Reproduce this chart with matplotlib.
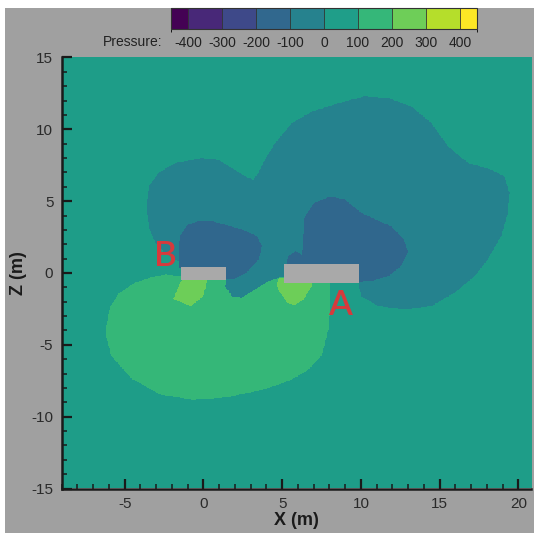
import numpy as np
import matplotlib
matplotlib.use("Agg")
import matplotlib.pyplot as plt
from matplotlib.path import Path
from matplotlib.colors import BoundaryNorm
from matplotlib.patches import Rectangle
from matplotlib.ticker import MultipleLocator
import matplotlib.cm as cm

plt.rcParams["font.family"] = ["Liberation Sans", "DejaVu Sans"]
plt.rcParams["axes.unicode_minus"] = False

# ---------------- data ----------------
levels = [-450, -400, -300, -200, -100, 0, 100, 200, 300, 400, 450]
cbar_ticks = [-400, -300, -200, -100, 0, 100, 200, 300, 400]
x_range = [-9.0, 20.8]
z_range = [-15.0, 15.0]
background_pressure = 50

# -100..0 region (large cloud)
big_x = [-3.63, -3.52, -2.89, -1.84, -0.15, 0.91, 1.76, 2.6, 3.13, 3.45, 3.87, 4.5, 5.56,
         6.83, 8.52, 10.2, 11.69, 13.16, 14.43, 15.49, 16.76, 18.23, 19.08, 19.4, 19.3,
         18.87, 18.0, 17.17, 15.9, 14.43, 12.74, 11.05, 10.0, 9.78, 5.13, 4.71, 4.08,
         3.23, 2.39, 1.76, 1.35, 1.44, -1.3, -1.62, -2.47, -3.1, -3.52]
big_z = [4.61, 6.0, 6.94, 7.63, 7.98, 7.86, 7.28, 6.7, 6.47, 6.94, 7.86, 9.0, 10.4,
         11.2, 11.8, 12.27, 12.16, 11.57, 10.4, 8.79, 7.63, 7.17, 6.7, 5.55, 4.15,
         2.53, 0.9, -0.26, -1.41, -2.34, -2.57, -2.34, -1.65, -0.6, -0.26, -0.37, -0.6,
         -1.18, -1.76, -1.65, -0.95, -0.3, 0.0, 0.79, 1.37, 2.07, 3.22]
big_p = -50

# -200..-100 region behind B
left_core_x = [-1.55, -1.6, -1.5, -1.1, -0.3, 0.6, 1.6, 2.5, 3.35, 3.68, 3.5, 2.7, 1.9, 1.3]
left_core_z = [0.3, 1.6, 2.6, 3.3, 3.6, 3.55, 3.25, 2.95, 2.55, 1.85, 0.95, 0.0, -0.45, -0.4]
left_core_p = -150

# -200..-100 region behind A
right_core_x = [5.2, 5.3, 5.8, 6.25, 6.3, 6.4, 7.0, 8.0, 8.9, 10.0, 10.85, 11.9, 12.7,
                12.95, 12.5, 11.7, 10.6, 9.5, 6.0]
right_core_z = [0.3, 1.1, 1.5, 1.2, 2.6, 3.9, 4.85, 5.3, 5.1, 4.15, 3.7, 3.2, 2.3,
                1.4, 0.45, -0.25, -0.6, -0.65, 0.3]
right_core_p = -150

# 100..200 region (lower lobe)
green_x = [-3.32, -2.47, -1.41, 1.44, 1.35, 1.76, 2.39, 3.23, 4.08, 4.71, 5.13, 8.0, 8.0,
           7.95, 7.46, 6.6, 5.5, 3.87, 1.35, -0.75, -2.8, -4.6, -5.9, -6.27, -6.0, -5.45, -4.4]
green_z = [-0.32, -0.14, -0.26, -0.35, -0.95, -1.65, -1.76, -1.18, -0.6, -0.37, -0.3, -0.6,
           -1.9, -3.7, -5.8, -6.8, -7.5, -8.14, -8.72, -8.88, -8.5, -7.4, -5.8, -4.2, -2.5,
           -1.5, -0.7]
green_p = 150

# 200..300 patches under the two bodies
patch_b_x = [-1.35, 0.2, 0.15, -0.1, -0.85, -1.95, -1.7]
patch_b_z = [-0.35, -0.35, -0.9, -1.7, -2.35, -1.85, -1.2]
patch_a_x = [4.75, 6.9, 6.85, 6.3, 5.8, 5.3, 4.7, 4.6]
patch_a_z = [-0.4, -0.4, -0.95, -1.9, -2.25, -2.15, -1.2, -0.8]
patch_p = 250

# bodies (gray rectangles) and their labels
body_x0 = [-1.4, 5.1]
body_z0 = [-0.5, -0.7]
body_w = [2.85, 4.8]
body_h = [0.92, 1.35]
body_label = ["B", "A"]
label_x = [-2.4, 8.68]
label_z = [1.15, -2.26]

# ---------------- build the field ----------------
nx, nz = 700, 700
xs = np.linspace(x_range[0], x_range[1], nx)
zs = np.linspace(z_range[0], z_range[1], nz)
XX, ZZ = np.meshgrid(xs, zs)
pts = np.column_stack([XX.ravel(), ZZ.ravel()])
P = np.full(XX.shape, float(background_pressure))
regions = [
    (big_x, big_z, big_p),
    (left_core_x, left_core_z, left_core_p),
    (right_core_x, right_core_z, right_core_p),
    (green_x, green_z, green_p),
    (patch_b_x, patch_b_z, patch_p),
    (patch_a_x, patch_a_z, patch_p),
]
for rx, rz, rp in regions:
    inside = Path(np.column_stack([rx, rz])).contains_points(pts).reshape(XX.shape)
    P[inside] = rp

cmap = plt.get_cmap("viridis", 10)
norm = BoundaryNorm(levels, cmap.N)

# ---------------- figure ----------------
W, H = 534, 533
fig = plt.figure(figsize=(W / 100, H / 100), dpi=100, facecolor="white")
fig.patches.append(Rectangle((5 / W, 0), 1, 1 - 8 / H, transform=fig.transFigure,
                             facecolor="#a0a0a0", edgecolor="none", zorder=-10))

ax = fig.add_axes([61.7 / W, 1 - 488.5 / H, (531 - 61.7) / W, (488.5 - 57.5) / H])
ax.imshow(P, extent=[x_range[0], x_range[1], z_range[0], z_range[1]], origin="lower",
          cmap=cmap, norm=norm, aspect="auto", interpolation="nearest")

for x0, z0, w, h in zip(body_x0, body_z0, body_w, body_h):
    ax.add_patch(Rectangle((x0, z0), w, h, facecolor="#a9a9a9", edgecolor="none", zorder=3))
for t, lx, lz in zip(body_label, label_x, label_z):
    ax.text(lx, lz, t, color="#d63a3c", fontsize=25, family=["Lato", "DejaVu Sans"],
            fontweight="semibold", ha="center", va="center", zorder=4)

ax.set_xlim(x_range)
ax.set_ylim(z_range)
ax.xaxis.set_major_locator(MultipleLocator(5))
ax.xaxis.set_minor_locator(MultipleLocator(1))
ax.yaxis.set_major_locator(MultipleLocator(5))
ax.yaxis.set_minor_locator(MultipleLocator(1))
ax.tick_params(which="both", direction="in", top=False, right=False,
               color="#1a1a1a", labelcolor="#2a2a2a", labelsize=11, pad=6)
ax.tick_params(which="major", length=7, width=1.6)
ax.tick_params(which="minor", length=3.5, width=1.1)
for s in ["top", "right"]:
    ax.spines[s].set_visible(False)
for s in ["left", "bottom"]:
    ax.spines[s].set_linewidth(1.8)
    ax.spines[s].set_color("#1a1a1a")

ax.set_xlabel("X (m)", fontsize=13, fontweight="bold", color="#1a1a1a", labelpad=1)
ax.set_ylabel("Z (m)", fontsize=13, fontweight="bold", color="#1a1a1a", labelpad=3)

# colorbar
cax = fig.add_axes([171 / W, 1 - 29.3 / H, (477 - 171) / W, 21 / H])
sm = cm.ScalarMappable(norm=norm, cmap=cmap)
cb = fig.colorbar(sm, cax=cax, orientation="horizontal", boundaries=levels,
                  ticks=cbar_ticks, spacing="proportional", drawedges=True)
cb.outline.set_edgecolor("#333333")
cb.outline.set_linewidth(0.8)
cb.dividers.set_color("#333333")
cb.dividers.set_linewidth(0.6)
cax.tick_params(length=0, labelsize=10, pad=4.5, labelcolor="#222222")
fig.text(162 / W, 1 - 42 / H, "Pressure:", ha="right", va="center",
         fontsize=10, color="#222222")

fig.savefig("out.png", dpi=100, facecolor=fig.get_facecolor())
